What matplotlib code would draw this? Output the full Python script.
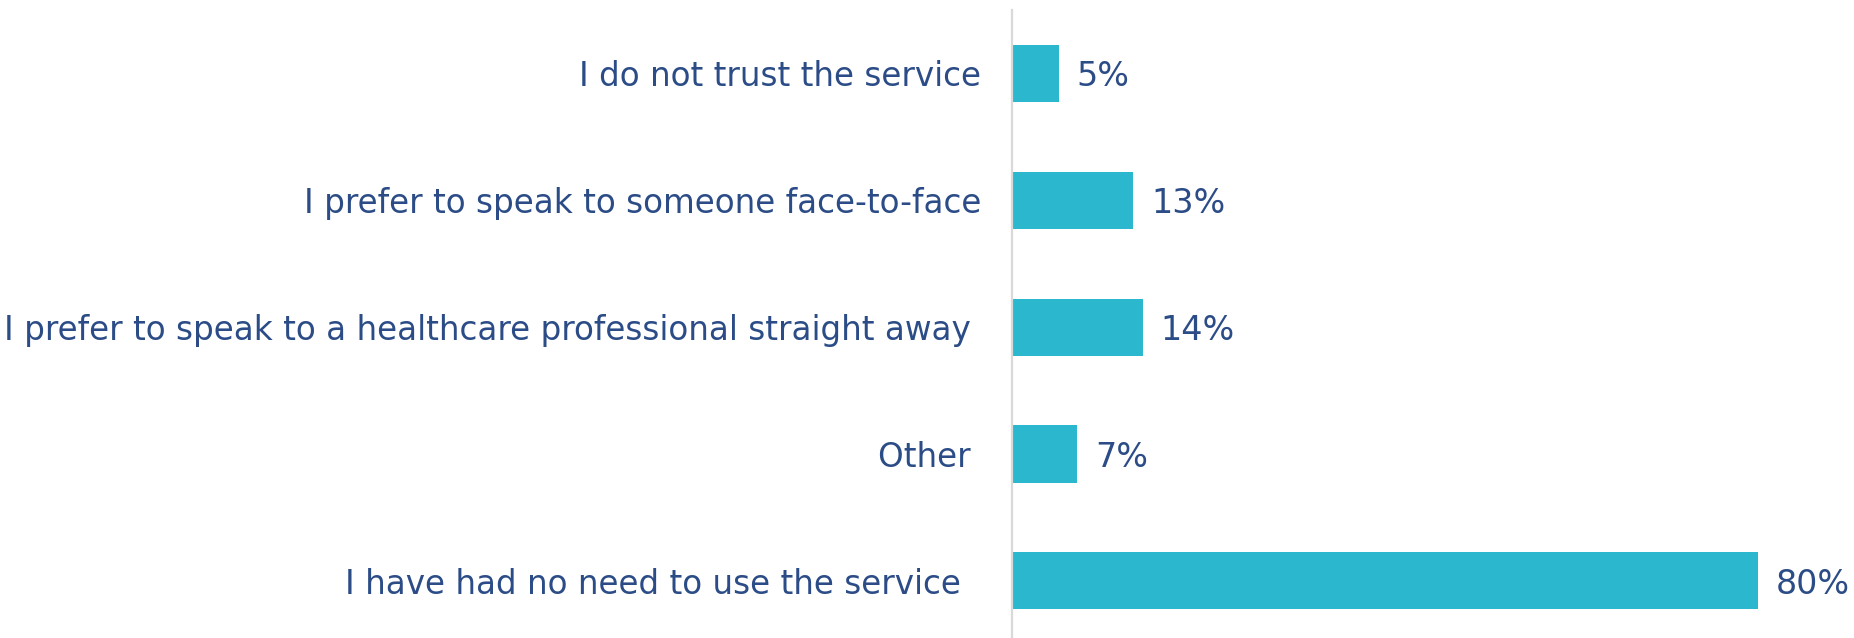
import matplotlib
matplotlib.use('Agg')
import matplotlib.pyplot as plt

# Reasons for not using the service
categories = [
    "I do not trust the service",
    "I prefer to speak to someone face-to-face",
    "I prefer to speak to a healthcare professional straight away ",
    "Other ",
    "I have had no need to use the service  ",
]
values = [5, 13, 14, 7, 80]

C_BAR  = '#2BB7CE'
C_TEXT = '#2B4C86'
C_AXIS = '#D9D9D9'

plt.rcParams['font.family'] = ['DejaVu Sans']

fig = plt.figure(figsize=(18.54, 6.38), dpi=100, facecolor='white')
ax = fig.add_axes([1012 / 1854, 0.0, 1 - 1012 / 1854, 1 - 10 / 638])

ypos = list(range(len(categories)))
ax.barh(ypos, values, height=0.45, color=C_BAR, zorder=2)

# value labels just right of each bar
for y, v in zip(ypos, values):
    ax.text(v + 1.9, y + 0.025, f"{v}%", ha='left', va='center',
            fontsize=24, color=C_TEXT, clip_on=False)

ax.set_xlim(0, 80 * 842 / 746)
ax.set_ylim(4.45, -0.5)
ax.set_yticks(ypos)
ax.set_yticklabels(categories, fontsize=23.5, color=C_TEXT)
ax.tick_params(axis='y', length=0, pad=22)
ax.set_xticks([])

for name, spine in ax.spines.items():
    spine.set_visible(name == 'left')
ax.spines['left'].set_color(C_AXIS)
ax.spines['left'].set_linewidth(1.6)

fig.savefig('out.png', dpi=100, facecolor='white')
